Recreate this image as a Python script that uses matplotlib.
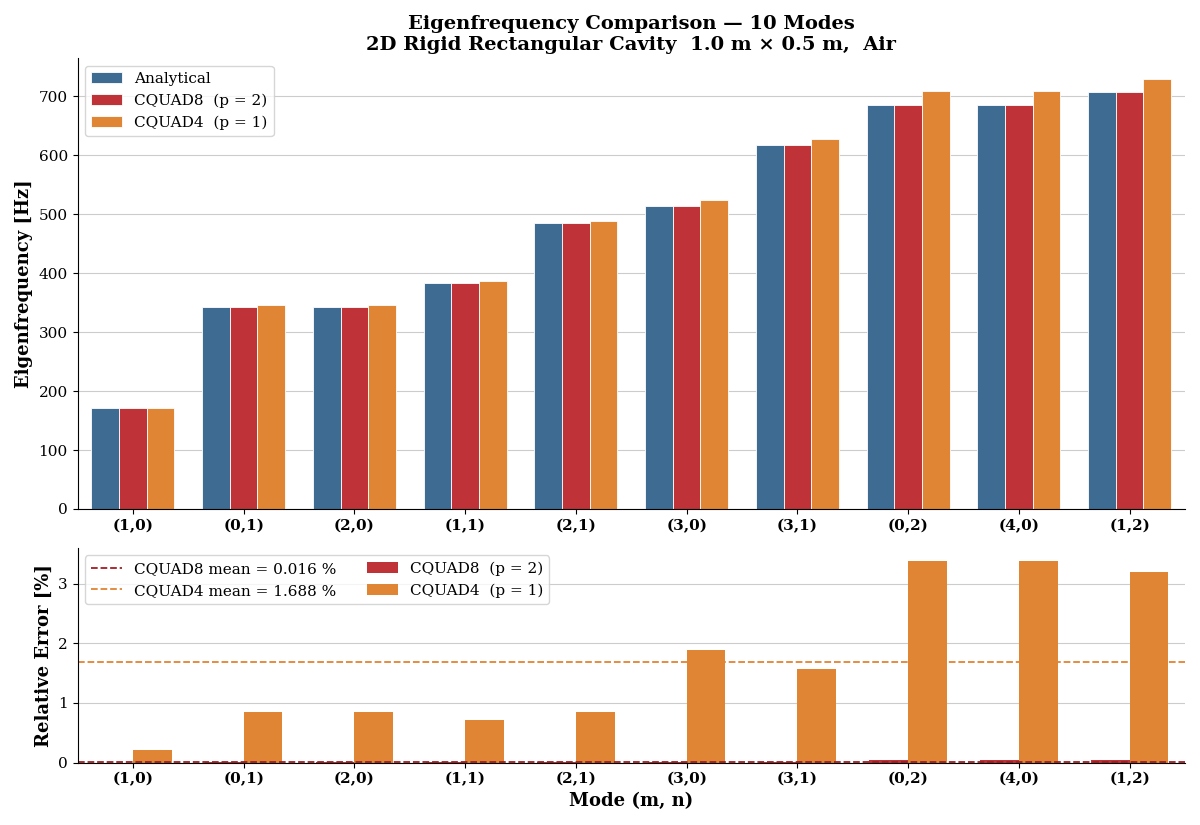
import numpy as np
import matplotlib
matplotlib.use("Agg")
import matplotlib.pyplot as plt

plt.rcParams['font.family'] = ['DejaVu Serif']

modes = ["(1,0)", "(0,1)", "(2,0)", "(1,1)", "(2,1)", "(3,0)", "(3,1)", "(0,2)", "(4,0)", "(1,2)"]
f_analytical = [171.5, 343.0, 343.0, 383.5, 485.1, 514.5, 618.3, 686.0, 686.0, 707.2]
f_cquad8 = [171.5, 343.0, 343.0, 383.5, 485.1, 514.5, 618.4, 686.2, 686.2, 707.4]
f_cquad4 = [171.9, 345.9, 345.9, 386.3, 489.2, 524.2, 628.0, 709.2, 709.2, 729.8]
err_cquad8 = [0.0003, 0.002, 0.002, 0.003, 0.005, 0.011, 0.012, 0.035, 0.035, 0.035]
err_cquad4 = [0.21, 0.84, 0.84, 0.72, 0.84, 1.89, 1.57, 3.38, 3.38, 3.19]
mean8 = 0.016
mean4 = 1.688

c_an = "#3d6b92"
c_q8 = "#bf3237"
c_q4 = "#e08533"

fig, (ax1, ax2) = plt.subplots(2, 1, figsize=(12, 8.25), dpi=100,
                               gridspec_kw={"height_ratios": [2.1, 1]})
x = np.arange(len(modes))
w = 0.25
ax1.bar(x - w, f_analytical, w, color=c_an, edgecolor="white", linewidth=0.6, label="Analytical")
ax1.bar(x, f_cquad8, w, color=c_q8, edgecolor="white", linewidth=0.6, label="CQUAD8  (p = 2)")
ax1.bar(x + w, f_cquad4, w, color=c_q4, edgecolor="white", linewidth=0.6, label="CQUAD4  (p = 1)")
ax1.set_xticks(x)
ax1.set_xticklabels(modes, fontweight="bold")
ax1.set_xlim(-0.5, 9.5)
ax1.set_ylim(0, 765)
ax1.set_ylabel("Eigenfrequency [Hz]", fontsize=13, fontweight="bold")
ax1.grid(axis="y", color="#cccccc", linewidth=0.8)
ax1.set_axisbelow(True)
ax1.legend(loc="upper left", fontsize=11)
ax1.set_title("Eigenfrequency Comparison — 10 Modes\n2D Rigid Rectangular Cavity  1.0 m × 0.5 m,  Air",
              fontsize=14, fontweight="bold")

w2 = 0.35
ax2.bar(x - w2 / 2, err_cquad8, w2, color=c_q8, label="CQUAD8  (p = 2)")
ax2.bar(x + w2 / 2, err_cquad4, w2, color=c_q4, label="CQUAD4  (p = 1)")
ax2.axhline(mean8, color="#a01e23", linestyle="--", linewidth=1.3, label=f"CQUAD8 mean = {mean8:.3f} %")
ax2.axhline(mean4, color=c_q4, linestyle="--", linewidth=1.3, label=f"CQUAD4 mean = {mean4:.3f} %")
ax2.set_xticks(x)
ax2.set_xticklabels(modes, fontweight="bold")
ax2.set_xlim(-0.5, 9.5)
ax2.set_ylim(0, 3.6)
ax2.set_yticks([0, 1, 2, 3])
ax2.set_ylabel("Relative Error [%]", fontsize=13, fontweight="bold")
ax2.set_xlabel("Mode (m, n)", fontsize=13, fontweight="bold")
ax2.grid(axis="y", color="#cccccc", linewidth=0.8)
ax2.set_axisbelow(True)
ax2.legend(loc="upper left", ncol=2, fontsize=11)

for ax in (ax1, ax2):
    ax.spines["top"].set_visible(False)
    ax.spines["right"].set_visible(False)
    ax.tick_params(labelsize=11)

fig.tight_layout()
fig.savefig("out.png")
